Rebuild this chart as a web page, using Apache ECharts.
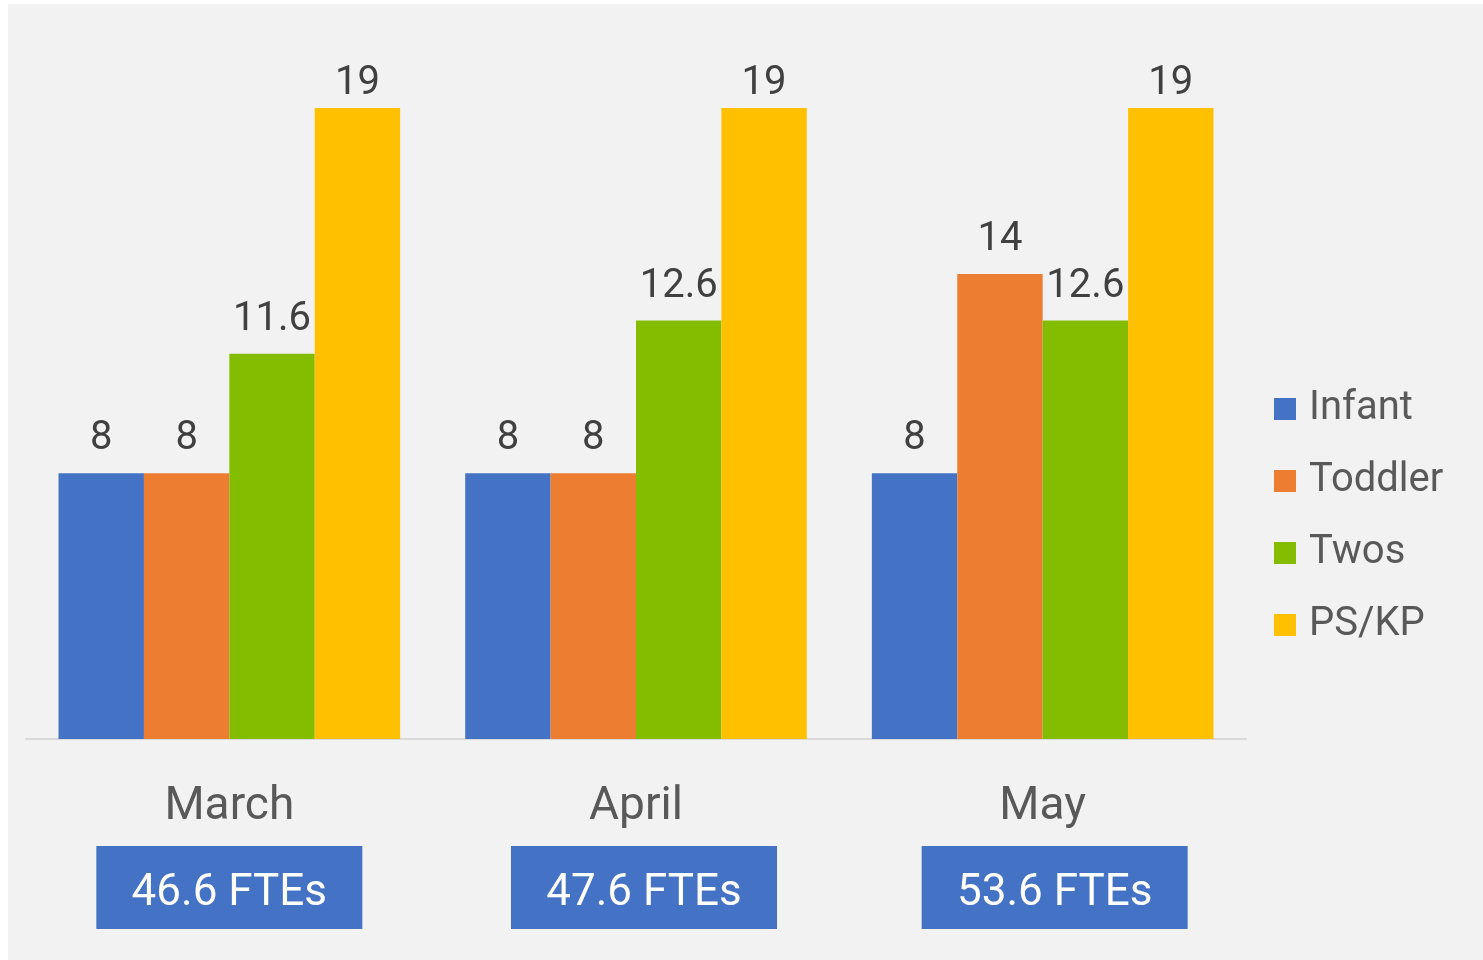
<!DOCTYPE html>
<html>
<head>
<meta charset="utf-8">
<script src="https://cdn.jsdelivr.net/npm/echarts@6/dist/echarts.min.js"></script>
<style>
  html, body { margin: 0; padding: 0; background: #ffffff; }
  #chart { position: absolute; left: 8px; top: 4px; width: 1475px; height: 956px; }
</style>
</head>
<body>
<div id="chart"></div>
<script>
const months = ['March', 'April', 'May'];
const totals = ['46.6 FTEs', '47.6 FTEs', '53.6 FTEs'];
const infant = [8, 8, 8];
const toddler = [8, 8, 14];
const twos = [11.6, 12.6, 12.6];
const pskp = [19, 19, 19];

const fontFamily = 'Roboto, "Noto Sans", sans-serif';
const yMax = 19;

const chart = echarts.init(document.getElementById('chart'));

const barLabel = {
  show: true,
  position: 'top',
  distance: 14,
  color: '#404040',
  fontSize: 40,
  fontFamily: fontFamily
};

// labels of the tallest bars sit closer to the bar top (they hit the chart top)
const toItems = (data) => data.map(v =>
  v >= yMax ? { value: v, label: { distance: 4 } } : v
);

const makeSeries = (name, data, color) => ({
  name: name,
  type: 'bar',
  data: toItems(data),
  barGap: 0,
  barCategoryGap: '16%',
  itemStyle: { color: color },
  label: barLabel
});

// the FTE boxes sit a little right of the category centre in the original
const spacer = ['s0', 's1', 's2'];

const option = {
  backgroundColor: '#f2f2f2',
  animation: false,
  grid: {
    left: 18,
    width: 1220,
    top: 104,
    height: 631,
    containLabel: false
  },
  legend: {
    orient: 'vertical',
    left: 1266,
    top: 383,
    padding: 0,
    itemWidth: 22,
    itemHeight: 22,
    itemGap: 28,
    icon: 'rect',
    textStyle: {
      color: '#595959',
      fontSize: 40,
      fontFamily: fontFamily,
      lineHeight: 44,
      padding: [0, 0, 0, 8]
    },
    data: ['Infant', 'Toddler', 'Twos', 'PS/KP']
  },
  xAxis: {
    type: 'category',
    data: months,
    axisLine: { show: true, lineStyle: { color: '#d9d9d9', width: 2 } },
    axisTick: { show: false },
    axisLabel: {
      margin: 29,
      interval: 0,
      formatter: function (value, idx) {
        return '{m|' + value + '}\n{' + spacer[idx] + '|}{b|' + totals[idx] + '}';
      },
      rich: {
        m: {
          color: '#595959',
          fontSize: 46,
          fontFamily: fontFamily,
          lineHeight: 78,
          height: 78,
          align: 'center'
        },
        s0: { width: 0, height: 83 },
        s1: { width: 16, height: 83 },
        s2: { width: 24, height: 83 },
        b: {
          color: '#ffffff',
          fontSize: 44,
          fontFamily: fontFamily,
          backgroundColor: '#4472c4',
          width: 266,
          height: 71,
          lineHeight: 71,
          padding: [12, 0, 0, 0],
          align: 'center'
        }
      }
    }
  },
  yAxis: {
    type: 'value',
    min: 0,
    max: yMax,
    show: false,
    splitLine: { show: false }
  },
  series: [
    makeSeries('Infant', infant, '#4472c4'),
    makeSeries('Toddler', toddler, '#ed7d31'),
    makeSeries('Twos', twos, '#84bd00'),
    makeSeries('PS/KP', pskp, '#ffc000')
  ]
};

chart.setOption(option);
window.addEventListener('resize', function () {
  chart.resize();
});
</script>
</body>
</html>
